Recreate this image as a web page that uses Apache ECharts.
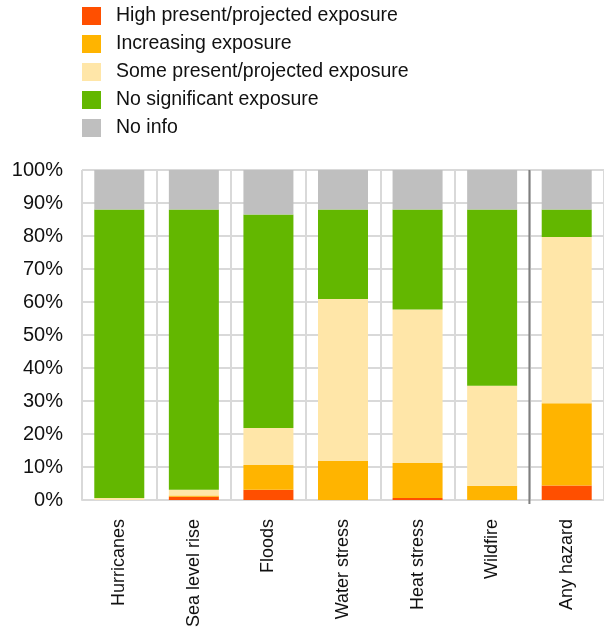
<!DOCTYPE html>
<html><head><meta charset="utf-8">
<script src="https://cdn.jsdelivr.net/npm/echarts@6/dist/echarts.min.js"></script>
<style>html,body{margin:0;padding:0;background:#fff}#c{width:604px;height:635px}</style>
</head><body><div id="c"></div>
<script>
const categories = ['Hurricanes','Sea level rise','Floods','Water stress','Heat stress','Wildfire','Any hazard'];
const seriesNames = ['High present/projected exposure','Increasing exposure','Some present/projected exposure','No significant exposure','No info'];
const high       = [0,    1.0, 3.1,  0,    0.6,  0,    4.4];
const increasing = [0,    0.4, 7.5,  11.8, 10.6, 4.3,  24.9];
const some       = [0.6,  1.7, 11.2, 49.1, 46.5, 30.3, 50.4];
const noSig      = [87.4, 84.9, 64.7, 27.1, 30.3, 53.4, 8.3];
const noInfo     = [12,   12,  13.5, 12,   12,   12,   12];
const yTicks = [0,10,20,30,40,50,60,70,80,90,100];
const colors = ['#FF4F00','#FFB400','#FFE6A8','#63B700','#BFBFBF'];
const values = [high, increasing, some, noSig, noInfo];
const font = 'Liberation Sans, Arial, sans-serif';

const chart = echarts.init(document.getElementById('c'));
chart.setOption({
  animation: false,
  color: colors,
  textStyle: {fontFamily: font},
  legend: {
    orient: 'vertical', left: 77, top: 1,
    itemWidth: 19, itemHeight: 18, itemGap: 8,
    icon: 'rect',
    data: seriesNames,
    textStyle: {fontSize: 19.5, color: '#111', fontFamily: font, padding: [0,0,0,10], lineHeight: 18}
  },
  grid: {left: 82, top: 170, width: 526, height: 330, containLabel: false},
  xAxis: {
    type: 'category', data: categories,
    axisLine: {show: true, lineStyle: {color: '#d9d9d9', width: 2}},
    axisTick: {show: false},
    splitLine: {show: true, lineStyle: {color: '#d9d9d9', width: 2}},
    axisLabel: {rotate: 90, fontSize: 18, color: '#111', margin: 19, fontFamily: font}
  },
  yAxis: {
    type: 'value', min: 0, max: 100, interval: 10,
    axisLine: {show: false}, axisTick: {show: false},
    splitLine: {show: true, lineStyle: {color: '#d9d9d9', width: 2}},
    axisLabel: {fontSize: 20, color: '#111', margin: 19, fontFamily: font,
      formatter: v => yTicks.includes(v) ? v + '%' : ''}
  },
  series: seriesNames.map((n, i) => ({
    name: n, type: 'bar', stack: 'total', barWidth: 50,
    data: values[i], itemStyle: {color: colors[i]}
  }))
});
// separator line between Wildfire and Any hazard, positioned from the axis
const p1 = chart.convertToPixel({xAxisIndex: 0}, 'Wildfire');
const p2 = chart.convertToPixel({xAxisIndex: 0}, 'Any hazard');
const xs = (p1 + p2) / 2;
const yTop = chart.convertToPixel({yAxisIndex: 0}, 100);
const yBot = chart.convertToPixel({yAxisIndex: 0}, 0);
chart.setOption({
  graphic: [{type: 'line', shape: {x1: xs, y1: yTop, x2: xs, y2: yBot + 4}, style: {stroke: '#7f7f7f', lineWidth: 2}, z: 10}]
});
</script></body></html>
